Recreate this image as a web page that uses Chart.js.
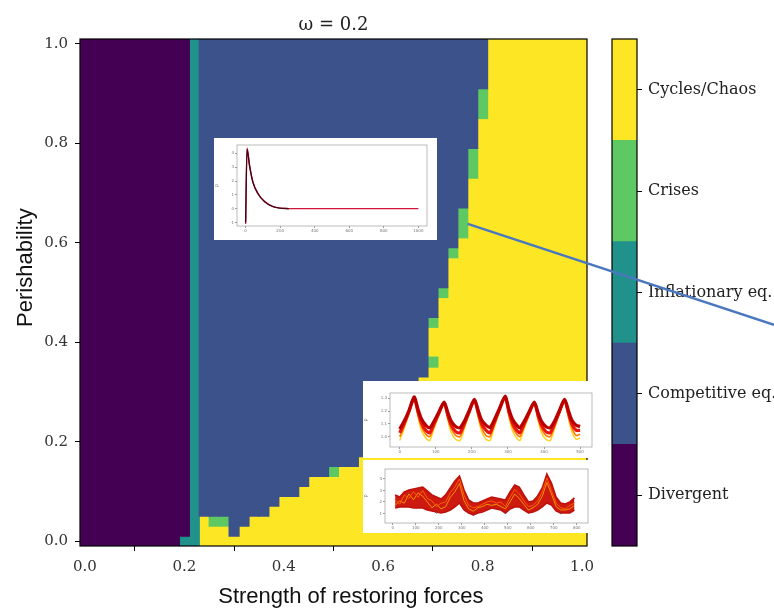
<!DOCTYPE html>
<html>
<head>
<meta charset="utf-8">
<script src="https://cdn.jsdelivr.net/npm/chart.js@4.4.1/dist/chart.umd.min.js"></script>
<style>
  html, body { margin: 0; padding: 0; background: #fff; }
  #stage { position: relative; width: 774px; height: 612px; overflow: hidden; }
  #stage canvas { position: absolute; }
</style>
</head>
<body>
<div id="stage">
  <canvas id="cbar" width="174" height="612" style="left:600px;top:0;z-index:1"></canvas>
  <canvas id="main" width="774" height="612" style="left:0;top:0;z-index:2"></canvas>
  <canvas id="insetA" width="223" height="102" style="left:214px;top:138px;z-index:3;background:#fff"></canvas>
  <canvas id="insetB" width="230" height="77" style="left:363px;top:381px;z-index:3;background:#fff"></canvas>
  <canvas id="insetC" width="227" height="73" style="left:363px;top:460px;z-index:3;background:#fff"></canvas>
</div>
<script>
// ---------- regimes ----------
const regimeNames = ['Divergent', 'Competitive eq.', 'Inflationary eq.', 'Crises', 'Cycles/Chaos'];
const regimeColors = ['#440154', '#3b528b', '#21918c', '#5ec962', '#fde725'];

// parameter values sampled on both axes
const gridValues = [0, 0.02, 0.04, 0.06, 0.08, 0.1, 0.12, 0.14, 0.16, 0.18, 0.2, 0.22, 0.24, 0.26, 0.28,
  0.3, 0.32, 0.34, 0.36, 0.38, 0.4, 0.42, 0.44, 0.46, 0.48, 0.5, 0.52, 0.54, 0.56, 0.58, 0.6, 0.62, 0.64,
  0.66, 0.68, 0.7, 0.72, 0.74, 0.76, 0.78, 0.8, 0.82, 0.84, 0.86, 0.88, 0.9, 0.92, 0.94, 0.96, 0.98, 1];
const axisTicks = [0, 0.2, 0.4, 0.6, 0.8, 1.0];

// columns up to this index diverge; the next column is the inflationary strip
const lastDivergentColumn = 10;
const inflationColumn = 11;
const inflationCells = [[10, 0]];
// per column: number of cycle rows from the bottom
const lowerCycleRows = [0, 0, 0, 0, 0, 0, 0, 0, 0, 0, 0, 0,
  3, 2, 2, 1, 2, 3, 3, 4, 5, 5, 6, 7, 7, 7, 8, 8, 9, 9, 10, 10, 11, 12, 13,
  14, 14, 14, 14, 14, 14, 14, 14, 14, 14, 14, 14, 14, 14, 14, 14];
// per row (bottom to top): first column of the cycle region on the right
const rightCycleStart = [30, 30, 30, 30, 30, 30, 30, 30, 30, 31, 31, 32, 32, 33, 33, 34, 34, 35, 36,
  35, 35, 35, 36, 36, 36, 37, 37, 37, 37, 38, 38, 39, 39, 39, 39, 39, 39, 40, 40, 40, 40, 40, 40,
  41, 41, 41, 41, 41, 41, 41, 41];
// [column, row] cells ending in crises
const crisisCells = [[13, 2], [14, 2], [25, 7], [35, 18], [35, 22], [36, 25], [37, 29], [38, 31], [38, 32],
  [38, 33], [39, 37], [39, 38], [39, 39], [40, 43], [40, 44], [40, 45]];

// ---------- inset time series ----------
const decayTime = [0, 8, 23, 42, 71, 110, 158, 197, 250, 400, 600, 800, 1000];
const decayPrice = [-1.1, 4.4, 3.14, 1.95, 1.12, 0.52, 0.16, 0.05, 0.01, 0, 0, 0, 0];
const decayPriceDark = [-1.0, 4.3, 3.05, 1.9, 1.08, 0.5, 0.15, 0.04, 0.0];
const decayTicksX = [0, 200, 400, 600, 800, 1000];
const decayTicksY = [-1, 0, 1, 2, 3, 4];

const cycleTime = [0, 12, 25, 40, 50, 60, 72, 83, 95, 108, 123, 133, 143, 155, 167, 179, 192, 207, 217, 227, 239,
  250, 262, 275, 292, 302, 312, 324, 333, 345, 358, 373, 383, 393, 405, 417, 429, 442, 457, 467, 477, 489, 500];
const cycleDarkRed = [1.06, 1.12, 1.20, 1.31, 1.22, 1.14, 1.09, 1.07, 1.12, 1.19, 1.27, 1.19, 1.12, 1.08,
  1.07, 1.12, 1.20, 1.29, 1.21, 1.13, 1.09, 1.07, 1.13, 1.21, 1.315, 1.22, 1.14, 1.09, 1.07, 1.12, 1.19, 1.27,
  1.19, 1.12, 1.08, 1.07, 1.12, 1.20, 1.29, 1.21, 1.13, 1.09, 1.08];
const cycleRed = [1.03, 1.10, 1.19, 1.30, 1.20, 1.11, 1.05, 1.03, 1.10, 1.18, 1.265, 1.17, 1.09, 1.04,
  1.03, 1.10, 1.19, 1.285, 1.19, 1.10, 1.05, 1.03, 1.11, 1.20, 1.31, 1.20, 1.11, 1.05, 1.03, 1.10, 1.18, 1.265,
  1.17, 1.09, 1.04, 1.03, 1.10, 1.19, 1.285, 1.19, 1.10, 1.05, 1.05];
const cycleOrange = [1.00, 1.08, 1.18, 1.30, 1.18, 1.08, 1.02, 1.00, 1.08, 1.17, 1.26, 1.15, 1.06, 1.01,
  1.00, 1.08, 1.18, 1.28, 1.17, 1.07, 1.01, 1.00, 1.09, 1.19, 1.305, 1.18, 1.08, 1.02, 1.00, 1.08, 1.17, 1.26,
  1.15, 1.06, 1.01, 1.00, 1.08, 1.18, 1.28, 1.17, 1.07, 1.01, 1.02];
const cycleYellow = [0.97, 1.06, 1.17, 1.29, 1.16, 1.05, 0.99, 0.97, 1.06, 1.16, 1.255, 1.13, 1.03, 0.98,
  0.97, 1.06, 1.17, 1.275, 1.15, 1.04, 0.98, 0.97, 1.07, 1.18, 1.30, 1.16, 1.05, 0.99, 0.97, 1.06, 1.16, 1.255,
  1.13, 1.03, 0.98, 0.97, 1.06, 1.17, 1.275, 1.15, 1.04, 0.98, 0.99];
const cycleTicksX = [0, 100, 200, 300, 400, 500];
const cycleTicksY = [1.0, 1.1, 1.2, 1.3];

const noiseTime = [10, 30, 50, 70, 90, 110, 130, 150, 170, 190, 210, 230, 250, 270, 290, 310, 330, 350, 370, 390,
  410, 430, 450, 470, 490, 510, 530, 550, 570, 590, 610, 630, 650, 670, 690, 710, 730, 750, 770, 790];
const noiseHigh = [2.61, 2.43, 2.87, 3.04, 3.13, 3.22, 3.30, 2.96, 2.61, 2.43, 2.26, 2.61, 3.22, 3.83, 4.26, 3.04,
  2.17, 1.91, 1.91, 2.09, 2.26, 2.43, 2.35, 2.26, 2.17, 2.87, 3.48, 3.30, 2.61, 2.00, 2.09, 2.52, 3.22, 4.43, 3.65,
  2.43, 1.91, 1.83, 2.00, 2.35];
const noiseLow = [1.48, 1.57, 1.57, 1.57, 1.48, 1.48, 1.48, 1.30, 1.22, 1.13, 1.04, 1.13, 1.30, 1.57, 1.91, 1.30,
  1.04, 0.87, 1.04, 1.13, 1.30, 1.48, 1.39, 1.30, 1.04, 1.39, 1.57, 1.57, 1.30, 1.04, 1.13, 1.30, 1.57, 1.91, 1.74,
  1.22, 1.04, 1.04, 1.04, 1.30];
const noiseOrange = [2.2, 1.8, 2.6, 2.3, 2.9, 2.4, 3.0, 2.3, 2.1, 1.6, 1.9, 2.0, 2.8, 3.3, 4.0, 2.6, 1.7, 1.5, 1.6,
  1.8, 2.0, 2.1, 1.9, 2.0, 1.6, 2.4, 3.1, 2.7, 2.1, 1.6, 1.7, 2.1, 2.9, 4.1, 3.0, 1.9, 1.5, 1.4, 1.7, 1.9];
const noiseYellow = [1.7, 2.1, 1.9, 2.7, 2.2, 2.8, 2.5, 2.0, 1.5, 1.8, 1.4, 1.6, 2.4, 2.9, 3.6, 2.1, 1.4, 1.2, 1.5,
  1.6, 1.8, 1.7, 1.8, 1.6, 1.4, 2.0, 2.7, 2.3, 1.8, 1.3, 1.5, 1.8, 2.5, 3.7, 2.7, 1.6, 1.3, 1.3, 1.4, 1.7];
const noiseBlue = [1.7, 1.8, 1.9, 1.8, 1.7, 1.8, 1.7, 1.5, 1.4, 1.0, 1.3, 1.4, 1.5, 1.8, 2.2, 1.5, 1.3, 0.8, 1.3,
  1.4, 1.5, 1.7, 1.6, 1.5, 0.95, 1.6, 1.8, 1.8, 1.5, 1.0, 1.4, 1.5, 1.8, 2.2, 2.0, 1.4, 0.95, 1.3, 1.3, 1.5];
const noiseTicksX = [0, 100, 200, 300, 400, 500, 600, 700, 800];
const noiseTicksY = [1, 2, 3, 4];

// ---------- annotation placement (data coordinates) ----------
const pointerStart = [0.77, 0.638];
const pointerEndY = 0.435;
const yTitleAt = 0.55;
const xTitleAt = 0.535;

// ---------- build the regime map as floating bars ----------
function regimeAt(i, r) {
  if (crisisCells.some(([c, k]) => c === i && k === r)) return 3;
  if (inflationCells.some(([c, k]) => c === i && k === r)) return 2;
  if (i <= lastDivergentColumn) return 0;
  if (i === inflationColumn) return 2;
  if (r < lowerCycleRows[i] || i >= rightCycleStart[r]) return 4;
  return 1;
}
const halfStep = (gridValues[1] - gridValues[0]) / 2;
const regimeBars = regimeNames.map(() => []);
gridValues.forEach((x, i) => {
  let start = 0;
  for (let r = 1; r <= gridValues.length; r++) {
    if (r === gridValues.length || regimeAt(i, r) !== regimeAt(i, start)) {
      regimeBars[regimeAt(i, start)].push({ x, y: [gridValues[start] - halfStep, gridValues[r - 1] + halfStep] });
      start = r;
    }
  }
});

// ---------- shared plugins ----------
const framePlugin = {
  id: 'frame',
  afterDatasetsDraw(chart, args, opts) {
    const a = chart.chartArea, ctx = chart.ctx;
    ctx.save();
    ctx.strokeStyle = opts.color || '#000';
    ctx.lineWidth = opts.width || 1;
    ctx.strokeRect(a.left, a.top, a.right - a.left, a.bottom - a.top);
    ctx.restore();
  }
};

const labelsPlugin = {
  id: 'axisLabels',
  afterDraw(chart) {
    const ctx = chart.ctx, xs = chart.scales.x, ys = chart.scales.y;
    ctx.save();
    ctx.fillStyle = '#111';
    ctx.font = '22px "Liberation Sans", Arial, sans-serif';
    ctx.textAlign = 'center';
    ctx.textBaseline = 'middle';
    ctx.fillText('Strength of restoring forces', xs.getPixelForValue(xTitleAt), 597);
    ctx.translate(26, ys.getPixelForValue(yTitleAt));
    ctx.rotate(-Math.PI / 2);
    ctx.fillText('Perishability', 0, 0);
    ctx.restore();
  }
};

const pointerPlugin = {
  id: 'pointer',
  afterDraw(chart) {
    const ctx = chart.ctx, xs = chart.scales.x, ys = chart.scales.y;
    ctx.save();
    ctx.strokeStyle = '#4a78bf';
    ctx.lineWidth = 2.5;
    ctx.beginPath();
    ctx.moveTo(xs.getPixelForValue(pointerStart[0]), ys.getPixelForValue(pointerStart[1]));
    ctx.lineTo(chart.width, ys.getPixelForValue(pointerEndY));
    ctx.stroke();
    ctx.restore();
  }
};

const serif = (size) => ({ family: "'DejaVu Serif', serif", size, weight: 'normal' });

// ---------- main regime map ----------
new Chart(document.getElementById('main'), {
  type: 'bar',
  data: {
    datasets: regimeNames.map((name, k) => ({
      label: name,
      data: regimeBars[k],
      backgroundColor: regimeColors[k],
      borderWidth: 0,
      grouped: false,
      barPercentage: 1,
      categoryPercentage: 1,
      inflateAmount: 0.6
    }))
  },
  options: {
    responsive: false,
    animation: false,
    devicePixelRatio: 1,
    layout: { padding: { top: 0, right: 187, bottom: 0, left: 0 } },
    plugins: {
      legend: { display: false },
      tooltip: { enabled: false },
      title: {
        display: true, text: 'ω = 0.2', fullSize: false, color: '#222',
        font: serif(18), padding: { top: 15, bottom: 2.4 }
      },
      frame: { color: '#000', width: 1.2 }
    },
    scales: {
      x: {
        type: 'linear', min: -0.01, max: 1.01, offset: false,
        afterBuildTicks: (s) => { s.ticks = axisTicks.map((v) => ({ value: v })); },
        afterFit: (s) => { s.height = 66; },
        ticks: { autoSkip: false, maxRotation: 0, padding: 7, color: '#333', font: serif(15), callback: (v) => v.toFixed(1) },
        grid: { drawOnChartArea: false, drawTicks: true, tickLength: 5, tickColor: '#000' },
        border: { display: false }
      },
      y: {
        type: 'linear', min: -0.01, max: 1.01,
        afterBuildTicks: (s) => { s.ticks = axisTicks.map((v) => ({ value: v })); },
        afterFit: (s) => { s.width = 80; },
        ticks: { autoSkip: false, padding: 7, color: '#333', font: serif(15), callback: (v) => v.toFixed(1) },
        grid: { drawOnChartArea: false, drawTicks: true, tickLength: 5, tickColor: '#000' },
        border: { display: false }
      }
    }
  },
  plugins: [framePlugin, labelsPlugin, pointerPlugin]
});

// ---------- colour bar ----------
new Chart(document.getElementById('cbar'), {
  type: 'bar',
  data: {
    labels: [''],
    datasets: regimeNames.map((name, k) => ({
      label: name,
      data: [[k, k + 1]],
      backgroundColor: regimeColors[k],
      borderWidth: 0,
      grouped: false,
      barPercentage: 1,
      categoryPercentage: 1,
      inflateAmount: 0.5
    }))
  },
  options: {
    responsive: false,
    animation: false,
    devicePixelRatio: 1,
    layout: { padding: { top: 39, right: 0, bottom: 66, left: 12 } },
    plugins: { legend: { display: false }, tooltip: { enabled: false }, frame: { color: '#000', width: 1.2 } },
    scales: {
      x: { display: false },
      y: {
        position: 'right', min: 0, max: regimeNames.length,
        afterBuildTicks: (s) => { s.ticks = regimeNames.map((n, k) => ({ value: k + 0.5 })); },
        afterFit: (s) => { s.width = 137; },
        ticks: { autoSkip: false, padding: 6, color: '#222', font: serif(16), callback: (v) => regimeNames[Math.floor(v)] },
        grid: { drawOnChartArea: false, drawTicks: true, tickLength: 5, tickColor: '#000' },
        border: { display: false }
      }
    }
  },
  plugins: [framePlugin]
});

// ---------- insets ----------
function insetScales(xr, yr, xTicks, yTicks, yWidth, xHeight, yDigits) {
  const tickFont = { family: "'DejaVu Sans', sans-serif", size: 4 };
  return {
    x: {
      type: 'linear', min: xr[0], max: xr[1],
      afterBuildTicks: (s) => { s.ticks = xTicks.map((v) => ({ value: v })); },
      afterFit: (s) => { s.height = xHeight; },
      ticks: { autoSkip: false, maxRotation: 0, padding: 1, color: '#777', font: tickFont, callback: (v) => String(v) },
      grid: { drawOnChartArea: false, tickLength: 2, tickColor: '#999' },
      border: { display: false }
    },
    y: {
      type: 'linear', min: yr[0], max: yr[1],
      afterBuildTicks: (s) => { s.ticks = yTicks.map((v) => ({ value: v })); },
      afterFit: (s) => { s.width = yWidth; },
      title: { display: true, text: 'p', color: '#888', font: { family: "'DejaVu Sans', sans-serif", size: 5 }, padding: 0 },
      ticks: { autoSkip: false, padding: 1, color: '#777', font: tickFont, callback: (v) => v.toFixed(yDigits) },
      grid: { drawOnChartArea: false, tickLength: 2, tickColor: '#999' },
      border: { display: false }
    }
  };
}
const insetBase = (padding) => ({
  responsive: false,
  animation: false,
  devicePixelRatio: 1,
  layout: { padding },
  plugins: { legend: { display: false }, tooltip: { enabled: false }, frame: { color: '#aaa', width: 0.8 } },
  elements: { point: { radius: 0 } }
});
const pairs = (xs, ys) => ys.map((y, i) => ({ x: xs[i], y }));

new Chart(document.getElementById('insetA'), {
  type: 'line',
  data: {
    datasets: [
      { data: pairs(decayTime, decayPriceDark), borderColor: '#4a0010', borderWidth: 1.4, cubicInterpolationMode: 'monotone' },
      { data: pairs(decayTime, decayPrice), borderColor: '#d0143c', borderWidth: 1.2, cubicInterpolationMode: 'monotone' }
    ]
  },
  options: Object.assign(insetBase({ top: 7, right: 10, left: 0, bottom: 0 }), {
    scales: insetScales([-50, 1050], [-1.25, 4.6], decayTicksX, decayTicksY, 23, 14, 0)
  }),
  plugins: [framePlugin]
});

new Chart(document.getElementById('insetB'), {
  type: 'line',
  data: {
    datasets: [
      { data: pairs(cycleTime, cycleDarkRed), borderColor: '#b80000', borderWidth: 3.2, tension: 0.25 },
      { data: pairs(cycleTime, cycleRed), borderColor: '#e8160e', borderWidth: 3.2, tension: 0.25 },
      { data: pairs(cycleTime, cycleOrange), borderColor: '#ff7a00', borderWidth: 1.6, tension: 0.25 },
      { data: pairs(cycleTime, cycleYellow), borderColor: '#ffd21a', borderWidth: 1.4, tension: 0.25 }
    ]
  },
  options: Object.assign(insetBase({ top: 12, right: 1, left: 0, bottom: 0 }), {
    scales: insetScales([-27, 533], [0.92, 1.34], cycleTicksX, cycleTicksY, 27, 11, 1)
  }),
  plugins: [framePlugin]
});

new Chart(document.getElementById('insetC'), {
  type: 'line',
  data: {
    datasets: [
      { data: pairs(noiseTime, noiseOrange), borderColor: '#ff5a00', borderWidth: 1 },
      { data: pairs(noiseTime, noiseYellow), borderColor: '#ffb000', borderWidth: 0.8 },
      { data: pairs(noiseTime, noiseHigh), borderColor: '#c0120c', borderWidth: 1.6 },
      { data: pairs(noiseTime, noiseLow), borderColor: '#c0120c', borderWidth: 1.6, fill: '-1', backgroundColor: '#cc1a10' },
      { data: pairs(noiseTime, noiseBlue), borderColor: '#2a8fe0', borderWidth: 0.9 }
    ]
  },
  options: Object.assign(insetBase({ top: 9, right: 2, left: 0, bottom: 0 }), {
    scales: insetScales([-34, 849], [0.17, 4.87], noiseTicksX, noiseTicksY, 22, 10, 0)
  }),
  plugins: [framePlugin]
});
</script>
</body>
</html>
